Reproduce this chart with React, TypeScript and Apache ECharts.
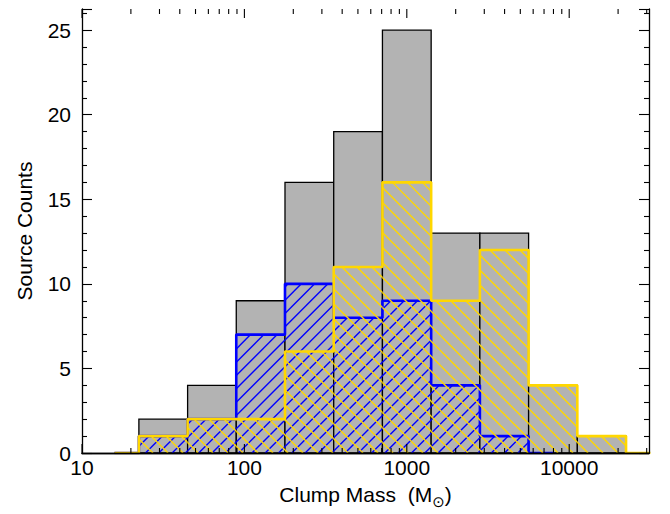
import React, { useEffect, useRef } from 'react';
import * as echarts from 'echarts';

// histogram bins (clump mass, M_sun), 0.3 dex wide
const binEdges = [22.4, 44.7, 89.1, 177.8, 354.8, 707.9, 1412.5, 2818.4, 5623.4, 11220.2, 22387.2];
const totalCounts = [2, 4, 9, 16, 19, 25, 13, 13, 4, 1];
const blueCounts = [1, 2, 7, 10, 8, 9, 4, 1];
const yellowCounts = [1, 2, 2, 6, 11, 16, 9, 12, 4, 1];

// empty half-bins drawn at the ends of the outlined histograms
const zeroStart = 15.85;
const blueZeroEnd = 7943;
const yellowZeroEnd = 31623;

const xMin = 10;
const xMax = 31000;
const yMin = 0;
const yMax = 26.25;

const xTickLabels = [10, 100, 1000, 10000];
const xMinorSteps = [2, 3, 4, 5, 6, 7, 8, 9];
const yTickLabels = [0, 5, 10, 15, 20, 25];

const FONT = '"Liberation Sans", Arial, Helvetica, sans-serif';
const GRAY = '#b3b3b3';
const BLUE = '#0000ff';
const YELLOW = '#ffd700';

const binRows = (counts: number[]) => counts.map((c, i) => [binEdges[i], binEdges[i + 1], c]);

const stepPoints = (counts: number[], zeroEnd: number) => {
  const pts: number[][] = [[zeroStart, 0], [binEdges[0], 0]];
  counts.forEach((c, i) => {
    pts.push([binEdges[i], c], [binEdges[i + 1], c]);
  });
  pts.push([binEdges[counts.length], 0], [zeroEnd, 0]);
  return pts;
};

// x ticks drawn by hand: [value, length in px]
const xTickRows = [
  ...xTickLabels.map(v => [v, 9]),
  ...xTickLabels.flatMap(d => xMinorSteps.map(s => d * s)).filter(v => v < xMax).map(v => [v, 5]),
];

// hatch lines clipped to each bar; dir 1 = "/", dir -1 = "\"
const hatchItem = (spacing: number, dir: number, color: string) => (_params: any, api: any) => {
  const topLeft = api.coord([api.value(0), api.value(2)]);
  const bottomRight = api.coord([api.value(1), 0]);
  const x0 = topLeft[0];
  const y0 = topLeft[1];
  const x1 = bottomRight[0];
  const y1 = bottomRight[1];
  const children: any[] = [];
  const style = { stroke: color, lineWidth: 1.4 };
  if (dir > 0) {
    const start = Math.ceil((x0 + y0) / spacing) * spacing;
    for (let c = start; c <= x1 + y1; c += spacing) {
      const xa = Math.max(x0, c - y1);
      const xb = Math.min(x1, c - y0);
      if (xb > xa) children.push({ type: 'line', shape: { x1: xa, y1: c - xa, x2: xb, y2: c - xb }, style });
    }
  } else {
    const start = Math.ceil((x0 - y1) / spacing) * spacing;
    for (let c = start; c <= x1 - y0; c += spacing) {
      const xa = Math.max(x0, c + y0);
      const xb = Math.min(x1, c + y1);
      if (xb > xa) children.push({ type: 'line', shape: { x1: xa, y1: xa - c, x2: xb, y2: xb - c }, style });
    }
  }
  return { type: 'group', children };
};

const App: React.FC = () => {
  const chartRef = useRef<HTMLDivElement>(null);

  useEffect(() => {
    if (!chartRef.current) return;
    const chart = echarts.init(chartRef.current, undefined, { renderer: 'svg' });

    const xLabel = (v: number) => {
      const r = Math.round(v);
      return xTickLabels.includes(r) ? String(r) : '';
    };

    const option = {
      animation: false,
      backgroundColor: '#ffffff',
      textStyle: { fontFamily: FONT },
      grid: { left: 82, right: 21, top: 9, bottom: 61 },
      xAxis: [
        {
          type: 'log',
          logBase: 10,
          min: xMin,
          max: xMax,
          z: 10,
          name: 'Clump Mass  (M{sub|⊙})',
          nameLocation: 'middle',
          nameGap: 27,
          nameTextStyle: {
            color: '#000',
            fontSize: 21,
            fontFamily: FONT,
            rich: {
              sub: { fontSize: 15, color: '#000', fontFamily: 'DejaVu Sans', padding: [14, 0, 0, 0] },
            },
          },
          axisLine: { lineStyle: { color: '#000', width: 1.3 } },
          axisTick: { show: false },
          axisLabel: { color: '#000', fontSize: 21, fontFamily: FONT, margin: 4, formatter: xLabel },
          splitLine: { show: false },
        },
        {
          type: 'log',
          logBase: 10,
          min: xMin,
          max: xMax,
          position: 'top',
          z: 10,
          axisLine: { lineStyle: { color: '#000', width: 1.3 } },
          axisTick: { show: false },
          axisLabel: { show: false },
          splitLine: { show: false },
        },
      ],
      yAxis: [
        {
          type: 'value',
          min: yMin,
          max: yMax,
          interval: 5,
          z: 10,
          name: 'Source Counts',
          nameLocation: 'middle',
          nameGap: 47,
          nameTextStyle: { color: '#000', fontSize: 21, fontFamily: FONT },
          axisLine: { show: true, lineStyle: { color: '#000', width: 1.3 } },
          axisTick: { show: true, inside: true, length: 10, lineStyle: { color: '#000', width: 1.1 } },
          minorTick: { show: true, splitNumber: 5, length: 5, lineStyle: { color: '#000', width: 1.1 } },
          axisLabel: {
            color: '#000',
            fontSize: 21,
            fontFamily: FONT,
            margin: 11,
            formatter: (v: number) => (yTickLabels.includes(v) ? String(v) : ''),
          },
          splitLine: { show: false },
        },
        {
          type: 'value',
          min: yMin,
          max: yMax,
          interval: 5,
          position: 'right',
          z: 10,
          axisLine: { show: true, lineStyle: { color: '#000', width: 1.3 } },
          axisTick: { show: true, inside: true, length: 10, lineStyle: { color: '#000', width: 1.1 } },
          minorTick: { show: true, splitNumber: 5, length: 5, lineStyle: { color: '#000', width: 1.1 } },
          axisLabel: { show: false },
          splitLine: { show: false },
        },
      ],
      series: [
        {
          name: 'All',
          type: 'custom',
          z: 1,
          encode: { x: [0, 1], y: 2 },
          data: binRows(totalCounts),
          renderItem: (_params: any, api: any) => {
            const tl = api.coord([api.value(0), api.value(2)]);
            const br = api.coord([api.value(1), 0]);
            return {
              type: 'rect',
              shape: { x: tl[0], y: tl[1], width: br[0] - tl[0], height: br[1] - tl[1] },
              style: { fill: GRAY, stroke: '#000', lineWidth: 1.3 },
            };
          },
        },
        {
          name: 'Blue hatch',
          type: 'custom',
          z: 2,
          encode: { x: [0, 1], y: 2 },
          data: binRows(blueCounts),
          renderItem: hatchItem(13.3, 1, BLUE),
        },
        {
          name: 'Blue',
          type: 'line',
          z: 3,
          symbol: 'none',
          data: stepPoints(blueCounts, blueZeroEnd),
          lineStyle: { color: BLUE, width: 2.6 },
        },
        {
          name: 'Yellow hatch',
          type: 'custom',
          z: 4,
          encode: { x: [0, 1], y: 2 },
          data: binRows(yellowCounts),
          renderItem: hatchItem(15, -1, YELLOW),
        },
        {
          name: 'Yellow',
          type: 'line',
          z: 5,
          symbol: 'none',
          data: stepPoints(yellowCounts, yellowZeroEnd),
          lineStyle: { color: YELLOW, width: 2.6 },
        },
        {
          name: 'X ticks',
          type: 'custom',
          z: 20,
          encode: { x: 0 },
          data: xTickRows,
          renderItem: (_params: any, api: any) => {
            const len = api.value(1);
            const b = api.coord([api.value(0), yMin]);
            const t = api.coord([api.value(0), yMax]);
            const style = { stroke: '#000', lineWidth: 1.1 };
            return {
              type: 'group',
              children: [
                { type: 'line', shape: { x1: b[0], y1: b[1], x2: b[0], y2: b[1] - len }, style },
                { type: 'line', shape: { x1: t[0], y1: t[1], x2: t[0], y2: t[1] + len }, style },
              ],
            };
          },
        },
      ],
    };

    chart.setOption(option);

    return () => {
      chart.dispose();
    };
  }, []);

  return (
    <div
      ref={chartRef}
      style={{ position: 'fixed', left: 0, top: 0, width: '670px', height: '514px', background: '#fff' }}
    />
  );
};

export default App;
